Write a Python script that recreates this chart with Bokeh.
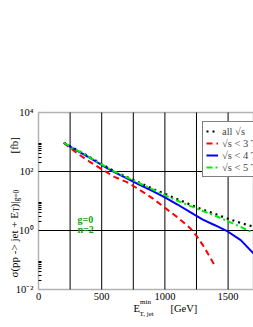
import math
from bokeh.plotting import figure
from bokeh.models import (Range1d, FixedTicker, Label, Legend, LegendItem, BoxAnnotation)
from bokeh.embed import file_html
from bokeh.resources import INLINE

# ---- data ----
e_all = [200, 300, 400, 500, 600, 700, 800, 900, 1000, 1100, 1200, 1300, 1400, 1500, 1600, 1700]
sig_all = [955, 550, 316, 178, 102, 64.6, 41.7, 26.3, 17.4, 11.5, 7.6, 5.1, 3.6, 2.5, 1.8, 1.35]
sig_5tev = [933, 537, 309, 174, 100, 63.1, 39.8, 25.1, 15.8, 10.2, 6.8, 4.6, 3.16, 2.04, 1.32, 0.83]
sig_4tev = [933, 525, 302, 166, 95.5, 58.9, 35.5, 21.9, 13.2, 7.6, 4.17, 2.34, 1.48, 0.91, 0.47, 0.17]
e_3tev = [200, 300, 400, 500, 600, 700, 800, 900, 1000, 1100, 1200, 1250, 1300, 1350, 1400]
sig_3tev = [933, 430, 222, 120, 66, 43.7, 24.0, 12.6, 5.9, 2.8, 1.2, 0.66, 0.32, 0.14, 0.059]

legend_labels = ["all \u221As", "\u221As < 3 TeV", "\u221As < 4 TeV", "\u221As < 5 TeV"]
x_ticks = [0, 250, 500, 750, 1000, 1250, 1500]
x_tick_labels = {0: "0", 250: "", 500: "500", 750: "", 1000: "1000", 1250: "", 1500: "1500"}
y_ticks = [1e-2, 1e0, 1e2, 1e4]
y_tick_labels = {1e-2: "10\u207B\u00B2", 1e0: "10\u2070", 1e2: "10\u00B2", 1e4: "10\u2074"}
y_minor = [k * 10.0 ** e for e in (-2, 0, 2) for k in range(2, 10)]

XMIN, XMAX = 0, 1701
YMIN, YMAX = 1e-2, 1e4
FONT = "Liberation Serif"

# canvas and the plotting box inside it (pixels)
W, H = 253, 325
BOX_L, BOX_T, BOX_R, BOX_B = 38, 112, 253, 289
XPX = (XMAX - XMIN) / (BOX_R - BOX_L)                       # data per px
YPX = (math.log10(YMAX) - math.log10(YMIN)) / (BOX_B - BOX_T)  # decades per px
XLO = XMIN - BOX_L * XPX
XHI = XMAX + (W - BOX_R) * XPX
YHI_E = math.log10(YMAX) + BOX_T * YPX
YLO_E = math.log10(YMIN) - (H - BOX_B) * YPX


def dx(px):
    return XLO + px * XPX


def dy(py):
    return 10 ** (YHI_E - py * YPX)


p = figure(width=W, height=H, x_range=Range1d(XLO, XHI), y_range=Range1d(10 ** YLO_E, 10 ** YHI_E),
           y_axis_type="log", output_backend="svg", toolbar_location=None,
           min_border_left=0, min_border_right=0, min_border_top=0, min_border_bottom=0)
p.background_fill_color = "white"
p.border_fill_color = "white"
p.outline_line_color = None
p.grid.visible = False

# axes, fixed on the edges of the box
xa = p.xaxis[0]
xa.fixed_location = YMIN
xa.bounds = (XMIN, XMAX)
xa.ticker = FixedTicker(ticks=x_ticks)
xa.major_label_overrides = x_tick_labels
xa.major_label_text_font = FONT
xa.major_label_text_font_size = "10.5px"
xa.major_label_text_color = "black"
xa.major_label_standoff = 3
xa.major_tick_in = 0
xa.major_tick_out = 0
xa.minor_tick_line_color = None
xa.axis_line_color = None

ya = p.yaxis[0]
ya.fixed_location = XMIN
ya.bounds = (YMIN, YMAX)
ya.ticker = FixedTicker(ticks=y_ticks, minor_ticks=y_minor)
ya.major_label_overrides = y_tick_labels
ya.major_label_text_font = FONT
ya.major_label_text_font_size = "10.5px"
ya.major_label_text_color = "black"
ya.major_label_standoff = 5
ya.major_tick_in = 0
ya.major_tick_out = 0
ya.minor_tick_in = 3
ya.minor_tick_out = 0
ya.minor_tick_line_color = "black"
ya.axis_line_color = None

# grid lines inside the box
p.segment(x0=x_ticks[1:], y0=[YMIN] * (len(x_ticks) - 1), x1=x_ticks[1:], y1=[YMAX] * (len(x_ticks) - 1),
          line_color="black", line_width=1)
p.segment(x0=[XMIN] * 2, y0=y_ticks[1:3], x1=[XMAX] * 2, y1=y_ticks[1:3],
          line_color="black", line_width=1)

# curves
r_all = p.line(e_all, sig_all, line_color="black", line_width=2.2, line_dash="2 4")
r_3 = p.line(e_3tev, sig_3tev, line_color="#ff0000", line_width=2, line_dash="6 4")
r_4 = p.line(e_all, sig_4tev, line_color="#0000ff", line_width=2)
r_5 = p.line(e_all, sig_5tev, line_color="#00ee00", line_width=2, line_dash="6 3 2 3")

# box outline
p.add_layout(BoxAnnotation(left=XMIN, right=XMAX, bottom=YMIN, top=YMAX, fill_alpha=0,
                           line_color="black", line_width=1.5))

legend = Legend(items=[LegendItem(label=legend_labels[0], renderers=[r_all]),
                       LegendItem(label=legend_labels[1], renderers=[r_3]),
                       LegendItem(label=legend_labels[2], renderers=[r_4]),
                       LegendItem(label=legend_labels[3], renderers=[r_5])],
                location=(202, H - 177))
legend.label_text_font = FONT
legend.label_text_font_size = "10.5px"
legend.glyph_width = 12
legend.glyph_height = 12
legend.label_height = 12
legend.label_standoff = 4
legend.spacing = 0
legend.padding = 3
legend.margin = 0
legend.border_line_color = "black"
legend.border_line_width = 1
legend.background_fill_alpha = 1
p.add_layout(legend, "center")

# y axis title (rotated, composed)
ang = math.pi / 2
ypieces = [("\u03C3(pp -> jet + E", 277, 13.5, "11px"),
           ("T", 211.5, 16.0, "7.5px"),
           (")|", 207, 13.5, "11px"),
           ("g=0", 201, 16.0, "7.5px"),
           ("[fb]", 153, 13.5, "11px")]
for txt, py, px, fs in ypieces:
    p.add_layout(Label(x=dx(px), y=dy(py), text=txt, angle=ang, text_align="left",
                       text_baseline="alphabetic", text_font=FONT, text_font_size=fs,
                       text_color="black"))

# x axis title (composed)
xpieces = [("E", 133, 308, "10.5px"),
           ("min", 139.5, 301, "7px"),
           ("T, jet", 139, 313, "7px"),
           ("[GeV]", 170, 308, "10.5px")]
for txt, px, py, fs in xpieces:
    p.add_layout(Label(x=dx(px), y=dy(py), text=txt, text_align="left",
                       text_baseline="alphabetic", text_font=FONT, text_font_size=fs,
                       text_color="black"))

# g=0 / n=2 annotation
for txt, py in (("g=0", 219), ("n=2", 229)):
    p.add_layout(Label(x=dx(77), y=dy(py), text=txt, text_align="left",
                       text_baseline="alphabetic", text_font=FONT, text_font_size="10px",
                       text_font_style="bold", text_color="#22a022"))

open("out.html", "w").write(file_html(p, INLINE))
